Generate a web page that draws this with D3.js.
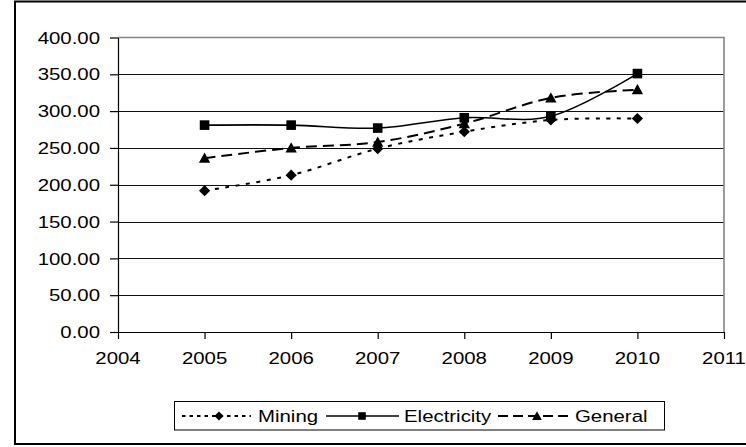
<!DOCTYPE html>
<html>
<head>
<meta charset="utf-8">
<script src="https://cdn.jsdelivr.net/npm/d3@7"></script>
<style>
  html, body { margin: 0; padding: 0; background: #fff; }
  svg { display: block; }
  text { font-family: "Liberation Sans", Arial, sans-serif; font-size: 17px; fill: #000; }
</style>
</head>
<body>
<svg id="chart" width="746" height="447"></svg>
<script>
// Index values by year for three sectors
const years = [2005, 2006, 2007, 2008, 2009, 2010];
const mining = [192, 213, 249, 272, 288, 290];
const electricity = [281, 281, 277, 291, 293, 351];
const general = [236, 250, 258, 283, 318, 329];
const seriesNames = ["Mining", "Electricity", "General"];
const yTicks = [0, 50, 100, 150, 200, 250, 300, 350, 400];
const xTicks = [2004, 2005, 2006, 2007, 2008, 2009, 2010, 2011];

const svg = d3.select("#chart");
const plot = { left: 118, right: 724, top: 37.5, bottom: 332 };
const SX = 1.2; // horizontal stretch of the label glyphs

// outer chart frame
svg.append("rect")
  .attr("x", 15).attr("y", 1.5)
  .attr("width", 740).attr("height", 442.5)
  .attr("fill", "#fff").attr("stroke", "#000").attr("stroke-width", 2);

const x = d3.scaleLinear().domain([2004, 2011]).range([plot.left, plot.right]);
const y = d3.scaleLinear().domain([0, 400]).range([plot.bottom, plot.top]);

// horizontal gridlines
svg.append("g")
  .selectAll("line")
  .data(yTicks.filter(v => v > 0 && v < 400))
  .join("line")
  .attr("x1", plot.left).attr("x2", plot.right)
  .attr("y1", d => Math.round(y(d)) + 0.5).attr("y2", d => Math.round(y(d)) + 0.5)
  .attr("stroke", "#111").attr("stroke-width", 1);

// plot area border (top and right)
svg.append("path")
  .attr("d", `M${plot.left},${plot.top}H${plot.right}V${plot.bottom}`)
  .attr("fill", "none").attr("stroke", "#858585").attr("stroke-width", 1.6);

// y axis
const yAxis = svg.append("g")
  .attr("transform", `translate(${plot.left},0)`)
  .call(d3.axisLeft(y).tickValues(yTicks).tickSize(8).tickSizeOuter(0).tickFormat(""));
yAxis.selectAll("path,line").attr("stroke", "#000").attr("stroke-width", 1.2);

svg.append("g")
  .selectAll("text")
  .data(yTicks)
  .join("text")
  .attr("text-anchor", "end")
  .attr("transform", d => `translate(100,${y(d)}) scale(${SX},1)`)
  .attr("dy", "0.36em")
  .text(d3.format(".2f"));

// x axis
const xAxis = svg.append("g")
  .attr("transform", `translate(0,${plot.bottom})`)
  .call(d3.axisBottom(x).tickValues(xTicks).tickSize(7).tickSizeOuter(0).tickFormat(""));
xAxis.selectAll("path,line").attr("stroke", "#000").attr("stroke-width", 1.2);

svg.append("g")
  .selectAll("text")
  .data(xTicks)
  .join("text")
  .attr("text-anchor", "middle")
  .attr("transform", d => `translate(${x(d)},364) scale(${SX},1)`)
  .text(d => d);

// series lines and markers
const line = d3.line()
  .x((d, i) => x(years[i]))
  .y(d => y(d))
  .curve(d3.curveCatmullRom.alpha(0));

const styles = [
  { data: mining, dash: "4,6.5", width: 2, shape: "diamond" },
  { data: electricity, dash: null, width: 1.6, shape: "square" },
  { data: general, dash: "11,6", width: 2, shape: "triangle" }
];

function marker(g, shape, cx, cy, s) {
  if (shape === "diamond") {
    g.append("path")
      .attr("d", `M${cx},${cy - s}L${cx + s},${cy}L${cx},${cy + s}L${cx - s},${cy}Z`)
      .attr("fill", "#000");
  } else if (shape === "square") {
    g.append("rect")
      .attr("x", cx - s).attr("y", cy - s)
      .attr("width", 2 * s).attr("height", 2 * s)
      .attr("fill", "#000");
  } else {
    g.append("path")
      .attr("d", `M${cx},${cy - s * 1.05}L${cx + s * 1.05},${cy + s * 0.85}L${cx - s * 1.05},${cy + s * 0.85}Z`)
      .attr("fill", "#000");
  }
}

const markerSize = { diamond: 5.6, square: 4.8, triangle: 5.4 };

styles.forEach(st => {
  svg.append("path")
    .datum(st.data)
    .attr("d", line)
    .attr("fill", "none")
    .attr("stroke", "#000")
    .attr("stroke-width", st.width)
    .attr("stroke-dasharray", st.dash);
});
styles.forEach(st => {
  const g = svg.append("g");
  st.data.forEach((v, i) => marker(g, st.shape, x(years[i]), y(v), markerSize[st.shape]));
});

// legend
svg.append("rect")
  .attr("x", 174.5).attr("y", 401.5)
  .attr("width", 490).attr("height", 28.5)
  .attr("fill", "#fff").attr("stroke", "#000").attr("stroke-width", 1);

const legendY = 416;
const legendItems = [
  { x0: 182, x1: 251, mx: 219, tx: 258, dash: "3.5,4", width: 2, shape: "diamond", ms: 4.6 },
  { x0: 326, x1: 399, mx: 362, tx: 404, dash: null, width: 1.4, shape: "square", ms: 3.8 },
  { x0: 498, x1: 570, mx: 537, tx: 575, dash: "10,5", width: 2, shape: "triangle", ms: 4.6 }
];
legendItems.forEach((it, k) => {
  const g = svg.append("g");
  g.append("line")
    .attr("x1", it.x0).attr("x2", it.x1)
    .attr("y1", legendY).attr("y2", legendY)
    .attr("stroke", "#000").attr("stroke-width", it.width)
    .attr("stroke-dasharray", it.dash);
  marker(g, it.shape, it.mx, legendY, it.ms);
  g.append("text")
    .attr("transform", `translate(${it.tx},${legendY + 6}) scale(${SX},1)`)
    .text(seriesNames[k]);
});
</script>
</body>
</html>
